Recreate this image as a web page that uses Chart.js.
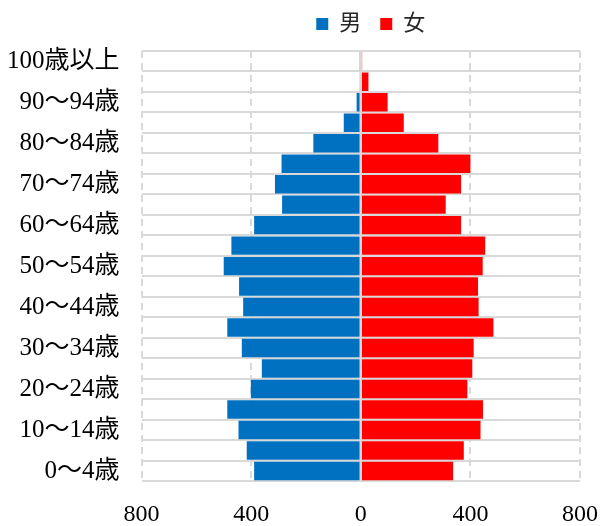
<!DOCTYPE html>
<html>
<head>
<meta charset="utf-8">
<script src="https://cdn.jsdelivr.net/npm/chart.js@4"></script>
<style>
  html, body { margin: 0; padding: 0; background: #fff; }
  #wrap { width: 601px; height: 526px; position: relative; }
</style>
</head>
<body>
<div id="wrap"><canvas id="pyramid"></canvas></div>
<script>
const ageLabels = [
  '0～4歳', '5～9歳', '10～14歳', '15～19歳', '20～24歳', '25～29歳', '30～34歳',
  '35～39歳', '40～44歳', '45～49歳', '50～54歳', '55～59歳', '60～64歳', '65～69歳',
  '70～74歳', '75～79歳', '80～84歳', '85～89歳', '90～94歳', '95～99歳', '100歳以上'
];
const maleCounts = [389, 416, 446, 487, 401, 361, 434, 487, 429, 444, 500, 472, 389, 287, 313, 289, 173, 62, 15, 3, 1];
const femaleCounts = [337, 376, 437, 446, 389, 407, 412, 484, 430, 428, 445, 454, 366, 310, 366, 400, 283, 157, 98, 28, 5];
const seriesNames = ['男', '女'];
const xMin = -800, xMax = 800, xStep = 400;

const fontFamily = "'Liberation Serif', 'Noto Sans CJK JP', serif";
const gridGray = '#d9d9d9';
const noTick = 'rgba(0,0,0,0)';

// solid line at 0 between the two sides, plus nudge the legend like the original
const pyramidExtras = {
  id: 'pyramidExtras',
  afterLayout(chart) {
    const lg = chart.legend;
    lg.left += 10; lg.right += 10;
    lg.top -= 6; lg.bottom -= 6;
  },
  afterDatasetsDraw(chart) {
    const { ctx, chartArea } = chart;
    const x0 = chart.scales.x.getPixelForValue(0);
    ctx.save();
    ctx.strokeStyle = gridGray;
    ctx.lineWidth = 2;
    ctx.beginPath();
    ctx.moveTo(x0, chartArea.top);
    ctx.lineTo(x0, chartArea.bottom);
    ctx.stroke();
    ctx.restore();
  }
};

new Chart(document.getElementById('pyramid'), {
  type: 'bar',
  data: {
    labels: ageLabels,
    datasets: [
      {
        label: seriesNames[0],
        data: maleCounts.map(v => -v),
        backgroundColor: '#0070c0',
        borderWidth: 0,
        barPercentage: 0.9,
        categoryPercentage: 1.0
      },
      {
        label: seriesNames[1],
        data: femaleCounts,
        backgroundColor: '#ff0000',
        borderWidth: 0,
        barPercentage: 0.9,
        categoryPercentage: 1.0
      }
    ]
  },
  options: {
    indexAxis: 'y',
    responsive: true,
    maintainAspectRatio: false,
    animation: false,
    layout: { padding: { left: 4, right: 0, top: 0, bottom: 0 } },
    plugins: {
      tooltip: { enabled: false },
      legend: {
        position: 'top',
        fullSize: false,
        labels: {
          boxWidth: 12,
          boxHeight: 12,
          padding: 19,
          color: '#262626',
          font: { family: fontFamily, size: 22 }
        }
      }
    },
    scales: {
      x: {
        stacked: true,
        min: xMin,
        max: xMax,
        ticks: {
          stepSize: xStep,
          padding: 3,
          color: '#000',
          font: { family: fontFamily, size: 24, lineHeight: 0.7 },
          callback: v => Math.abs(v)
        },
        grid: { color: gridGray, lineWidth: 2, drawTicks: true, tickLength: 22, tickColor: noTick },
        border: { display: false, dash: [7, 5] }
      },
      y: {
        stacked: true,
        reverse: true,
        ticks: {
          autoSkip: false,
          padding: 3,
          color: '#000',
          font: { family: fontFamily, size: 25 },
          callback: function (v, i) { return i % 2 === 0 ? this.getLabelForValue(v) : ''; }
        },
        grid: { color: gridGray, lineWidth: 2, drawTicks: true, tickLength: 19, tickColor: noTick },
        border: { display: false }
      }
    }
  },
  plugins: [pyramidExtras]
});
</script>
</body>
</html>
